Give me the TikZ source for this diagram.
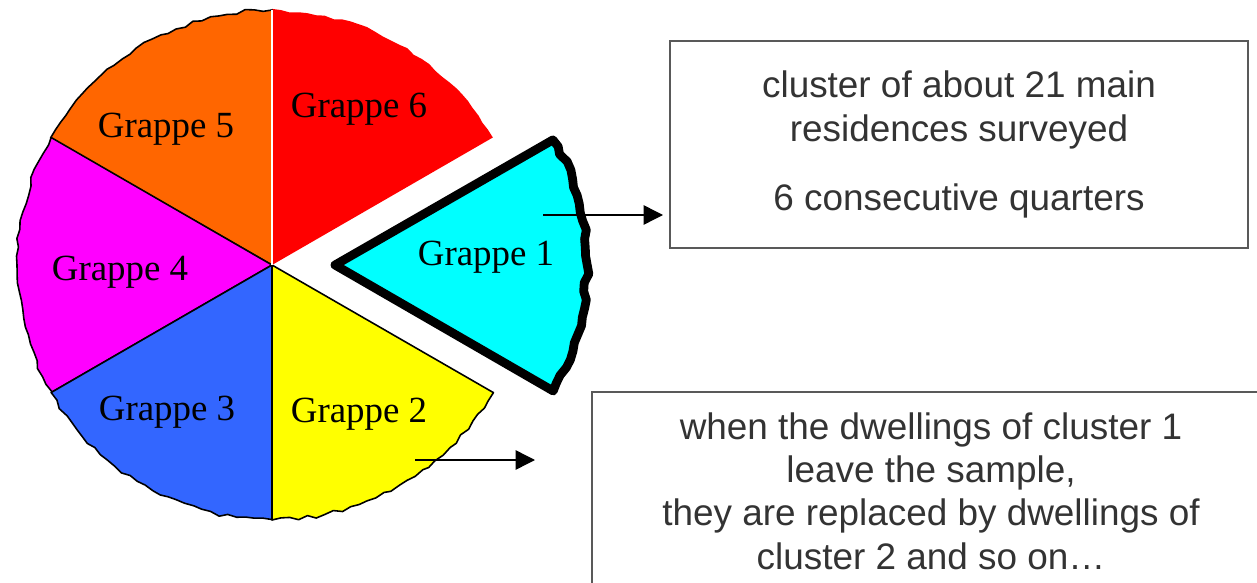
\documentclass[tikz,border=0pt]{standalone}
\usepackage{fontspec}
\setmainfont{Liberation Serif}
\newfontfamily\notefont{Liberation Sans}
\usetikzlibrary{arrows.meta}
\definecolor{orangesl}{HTML}{FF6600}
\definecolor{bluesl}{HTML}{3366FF}
\definecolor{magentasl}{HTML}{FF00FF}
\definecolor{yellowsl}{HTML}{FFFF00}
\definecolor{redsl}{HTML}{FF0000}
\definecolor{cyansl}{HTML}{00FFFF}
\definecolor{notegray}{HTML}{333333}

\tikzset{
  slice/.style={draw=black, line width=0.9pt, line join=round},
  part/.style={font=\fontsize{21}{25}\selectfont},
  note/.style={draw=black!65, line width=0.8pt, text=notegray, align=center,
    font=\notefont\fontsize{21}{25}\selectfont},
  link/.style={line width=0.8pt, -{Triangle[length=11pt,width=11pt]}}
}

\begin{document}
\begin{tikzpicture}[x=0.02cm, y=0.02cm]
\useasboundingbox (0,0) rectangle (1257,582);
\clip (0,0) rectangle (1257,582);
\pgfmathsetseed{11}
\coordinate (o) at (272,317);
\coordinate (o1) at (335,317);

% the pie, wavy rim
\begin{scope}[shift={(o)}]
\fill[redsl] (0,0) -- (30:255) \foreach \a in {32,34,...,90}{ -- (\a:{253+4*rnd})} -- cycle;
\filldraw[slice, fill=orangesl] (0,0) -- (90:255) \foreach \a in {92,94,...,150}{ -- (\a:{253+4*rnd})} -- cycle;
\filldraw[slice, fill=magentasl] (0,0) -- (150:255) \foreach \a in {152,154,...,210}{ -- (\a:{253+4*rnd})} -- cycle;
\filldraw[slice, fill=bluesl] (0,0) -- (210:255) \foreach \a in {212,214,...,270}{ -- (\a:{253+4*rnd})} -- cycle;
\filldraw[slice, fill=yellowsl] (0,0) -- (270:255) \foreach \a in {272,274,...,330}{ -- (\a:{253+4*rnd})} -- cycle;
\draw[white, line width=1.3pt] (0,0) -- (90:255);
\end{scope}

% cluster 1, pulled out
\begin{scope}[shift={(o1)}]
\filldraw[fill=cyansl, draw=black, line width=5pt, line join=round]
  (0,0) -- (-30:252) \foreach \a in {-28,-26,...,30}{ -- (\a:{249.5+5*rnd})} -- cycle;
\end{scope}

\node[part] (g6) at (359,473) {Grappe 6};
\node[part] (g5) at (166,453) {Grappe 5};
\node[part] (g4) at (120,310) {Grappe 4};
\node[part] (g3) at (167,170) {Grappe 3};
\node[part] (g2) at (359,168) {Grappe 2};
\node[part] (g1) at (486,325) {Grappe 1};

\node[note, minimum width=11.56cm, minimum height=4.14cm] (b1) at (959,437.5)
  {cluster of about 21 main\\ residences surveyed\\[14pt] 6 consecutive quarters};
\node[note, font=\notefont\fontsize{21}{24.7}\selectfont, minimum width=13.56cm, minimum height=3.96cm] (b2) at (931,91)
  {when the dwellings of cluster 1\\ leave the sample,\\ they are replaced by dwellings of\\ cluster 2 and so on…};

\coordinate (a1) at (543,367);
\coordinate (e1) at (663,367);
\coordinate (a2) at (415,122);
\coordinate (e2) at (535,122);
\draw[link] (a1) -- (e1);
\draw[link] (a2) -- (e2);
\end{tikzpicture}
\end{document}
